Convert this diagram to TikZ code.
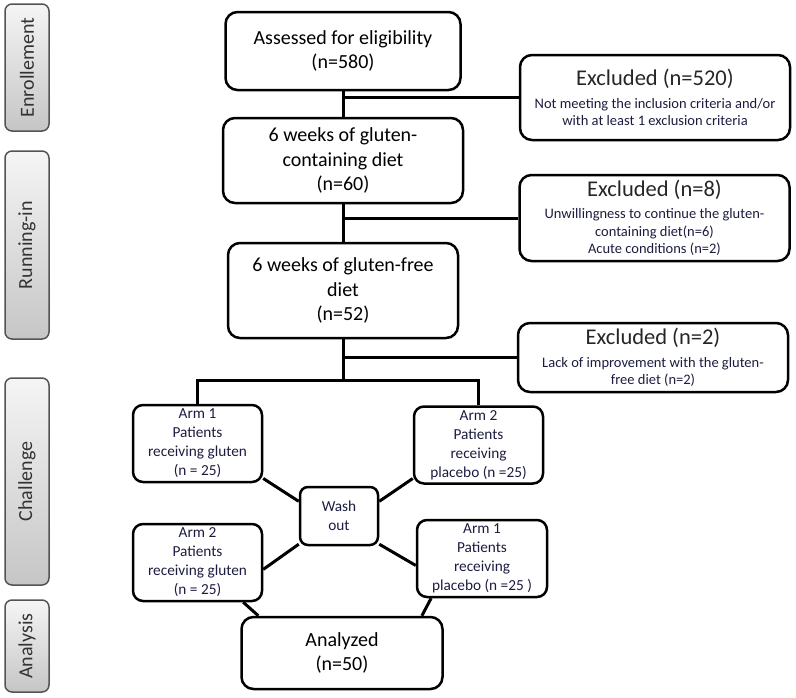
\documentclass[tikz,border=0pt]{standalone}
\usepackage{fontspec}
\setmainfont{Carlito}
\usepackage{tikz}
\usetikzlibrary{shapes,shadows}
\definecolor{notetext}{RGB}{28,28,64}
\tikzstyle{stage} = [draw, rectangle, rounded corners=12pt, line width=2.5pt, align=center,
inner sep=0.5ex, font=\fontsize{20}{24.5}\selectfont]
\tikzstyle{excl} = [draw, rectangle, rounded corners=12pt, line width=2.5pt, align=center,
inner sep=0.3ex, minimum width=270pt, font=\fontsize{14.5}{17.5}\selectfont, text=notetext]
\tikzstyle{arm} = [draw, rectangle, rounded corners=10pt, line width=2.5pt, align=center,
inner sep=0.3ex, minimum width=129pt, minimum height=77pt, font=\fontsize{15.3}{19}\selectfont, text=notetext]
\tikzstyle{phase} = [draw=gray!65!black, rectangle, rounded corners=7pt, line width=1.5pt,
top color=gray!8, bottom color=gray!45, rotate=90, minimum height=44pt,
font=\fontsize{20}{24}\selectfont, text=black!80]
\tikzstyle{link} = [line width=3pt]
\newcommand{\exhead}[1]{{\fontsize{22.5}{27}\selectfont\color{black!85}#1}}

\begin{document}
\begin{tikzpicture}[x=1pt,y=-1pt]
    \useasboundingbox (0,0) rectangle (796,697);
    % phases on the left
    \node[phase, minimum width=127pt] (enrol) at (27,67.5) {Enrollement};
    \node[phase, minimum width=188pt] (runin) at (27,245) {Running-in};
    \node[phase, minimum width=207pt] (chall) at (27,481.5) {Challenge};
    \node[phase, minimum width=92pt] (analy) at (27,646) {Analysis};
    % main column
    \node[stage, minimum width=235pt, minimum height=78pt] (assess) at (343,51)
        {Assessed for eligibility \\ (n=580)};
    \node[stage, minimum width=240pt, minimum height=85pt] (gcd) at (343,160.5)
        {6 weeks of gluten- \\ containing diet \\ (n=60)};
    \node[stage, minimum width=230pt, minimum height=95pt] (gf) at (343,290.5)
        {6 weeks of gluten-free \\ diet \\ (n=52)};
    % exclusions
    \node[excl, minimum height=85pt] (ex1) at (655,97.5)
        {\exhead{Excluded (n=520)} \\[5pt] Not meeting the inclusion criteria and/or \\ with at least 1 exclusion criteria};
    \node[excl, minimum height=86pt] (ex2) at (654.5,218)
        {\exhead{Excluded (n=8)} \\[5pt] Unwillingness to continue the gluten- \\ containing diet(n=6) \\ Acute conditions (n=2)};
    \node[excl, minimum height=69pt] (ex3) at (653,357.5)
        {\exhead{Excluded (n=2)} \\[5pt] Lack of improvement with the gluten- \\ free diet (n=2)};
    % challenge arms
    \node[arm] (arm1g) at (197.5,443.5) {Arm 1 \\ Patients \\ receiving gluten \\ (n = 25)};
    \node[arm] (arm2p) at (478.5,445) {Arm 2 \\ Patients \\ receiving \\ placebo (n =25)};
    \node[arm, rounded corners=8pt, minimum width=78pt, minimum height=58pt] (wash) at (339,516)
        {Wash \\ out};
    \node[arm] (arm2g) at (197.5,562.5) {Arm 2 \\ Patients \\ receiving gluten \\ (n = 25)};
    \node[arm, minimum width=130pt] (arm1p) at (482,558.5) {Arm 1 \\ Patients \\ receiving \\ placebo (n =25 )};
    \node[stage, minimum width=201pt, minimum height=72pt] (ana) at (342,653) {Analyzed \\ (n=50)};
    \coordinate (split) at (343,380);

    % connectors
    \draw[link] (assess) -- (gcd);
    \draw[link] (gcd) -- (gf);
    \draw[link] (gf) -- (split);
    \draw[link] (ex1.west) -- (ex1.west -| assess.south);
    \draw[link] (ex2.west) -- (ex2.west -| gcd.south);
    \draw[link] (ex3.west) -- (ex3.west -| gf.south);
    \draw[link] (split) -| (arm1g.north);
    \draw[link] (split) -| (arm2p.north);
    \draw[link] (arm1g.-28) -- (wash.160);
    \draw[link] (arm2p.207) -- (wash.20);
    \draw[link] (wash.215) -- (arm2g.-6);
    \draw[link] (wash.-35) -- (arm1p.186);
    \draw[link] (arm2g.-41) -- (ana.156);
    \draw[link] (arm1p.218) -- (ana.25);
\end{tikzpicture}
\end{document}
